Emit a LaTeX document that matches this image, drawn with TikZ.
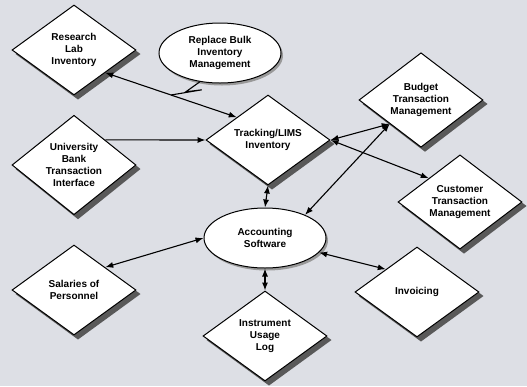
\documentclass[tikz,border=0pt]{standalone}
\usepackage{fontspec}
\setmainfont{Liberation Sans}
\usetikzlibrary{arrows.meta, positioning, shapes.geometric, calc, backgrounds}

\definecolor{bggray}{RGB}{221,223,229}

\begin{document}
\begin{tikzpicture}[
    x=1pt, y=-1pt,
    dbox/.style={diamond, draw, line width=1pt, fill=white, inner sep=0pt,
        minimum width=124pt, minimum height=90pt, align=center},
    ebox/.style={ellipse, draw, line width=1pt, fill=white, inner sep=0pt,
        minimum width=122pt, minimum height=60pt, align=center},
    arrow/.style={{Latex[length=8pt, width=6pt]}-{Latex[length=8pt, width=6pt]}, line width=1.1pt},
    onearrow/.style={-{Latex[length=8pt, width=6pt]}, line width=1.1pt},
    textstyle/.style={font=\bfseries\fontsize{10}{12}\selectfont}
]

% Top row
\node[dbox, textstyle] (inv) at (74,50) {Research\\Lab\\Inventory};
\node[ebox, textstyle] (note) at (220,53) {Replace Bulk\\Inventory\\Management};
\node[dbox, textstyle] (budget) at (421,100) {Budget\\Transaction\\Management};

% Middle row
\node[dbox, textstyle] (bank) at (74,165) {University\\Bank\\Transaction\\Interface};
\node[dbox, textstyle] (track) at (268,140) {Tracking/LIMS\\Inventory};
\node[dbox, textstyle] (cust) at (460,202) {Customer\\Transaction\\Management};
\node[ebox, textstyle] (acct) at (265,238) {Accounting\\Software};

% Bottom row
\node[dbox, textstyle] (salary) at (74,290) {Salaries of\\Personnel};
\node[dbox, textstyle] (usage) at (265,336) {Instrument\\Usage\\Log};
\node[dbox, textstyle] (invoice) at (417,292) {Invoicing};

% Links
\draw[arrow] (inv.south east) -- (track.north west);
\draw[onearrow] (bank.north east) -- (track.west);
\draw[arrow] (track.east) -- (budget.south west);
\draw[arrow] (track.east) -- (cust.north west);
\draw[arrow] (track.south) -- (acct.north);
\draw[arrow] (acct.30) -- (budget.south west);
\draw[arrow] (acct.-15) -- (invoice.north west);
\draw[arrow] (acct.west) -- (salary.north east);
\draw[arrow] (acct.south) -- (usage.north);

% note tied to the inventory link
\coordinate (tie) at ($(inv.south east)!0.5!(track.north west)$);
\draw[line width=1.1pt] (note.235) -- ++(-14,10) -- ++(16,-2) -- (tie);

% background and shadows
\begin{scope}[on background layer]
\fill[bggray] (0,0) rectangle (527,386);
\foreach \n in {inv, budget, bank, track, cust, salary, usage, invoice}
    \fill[black!65] ([shift={(4,4)}]\n.north) -- ([shift={(4,4)}]\n.east)
        -- ([shift={(4,4)}]\n.south) -- ([shift={(4,4)}]\n.west) -- cycle;
\foreach \n in {note, acct}
    \fill[black!40] ([shift={(2,2.5)}]\n.center) ellipse (61 and 30);
\end{scope}
\useasboundingbox (0,0) rectangle (527,386);

\end{tikzpicture}
\end{document}
